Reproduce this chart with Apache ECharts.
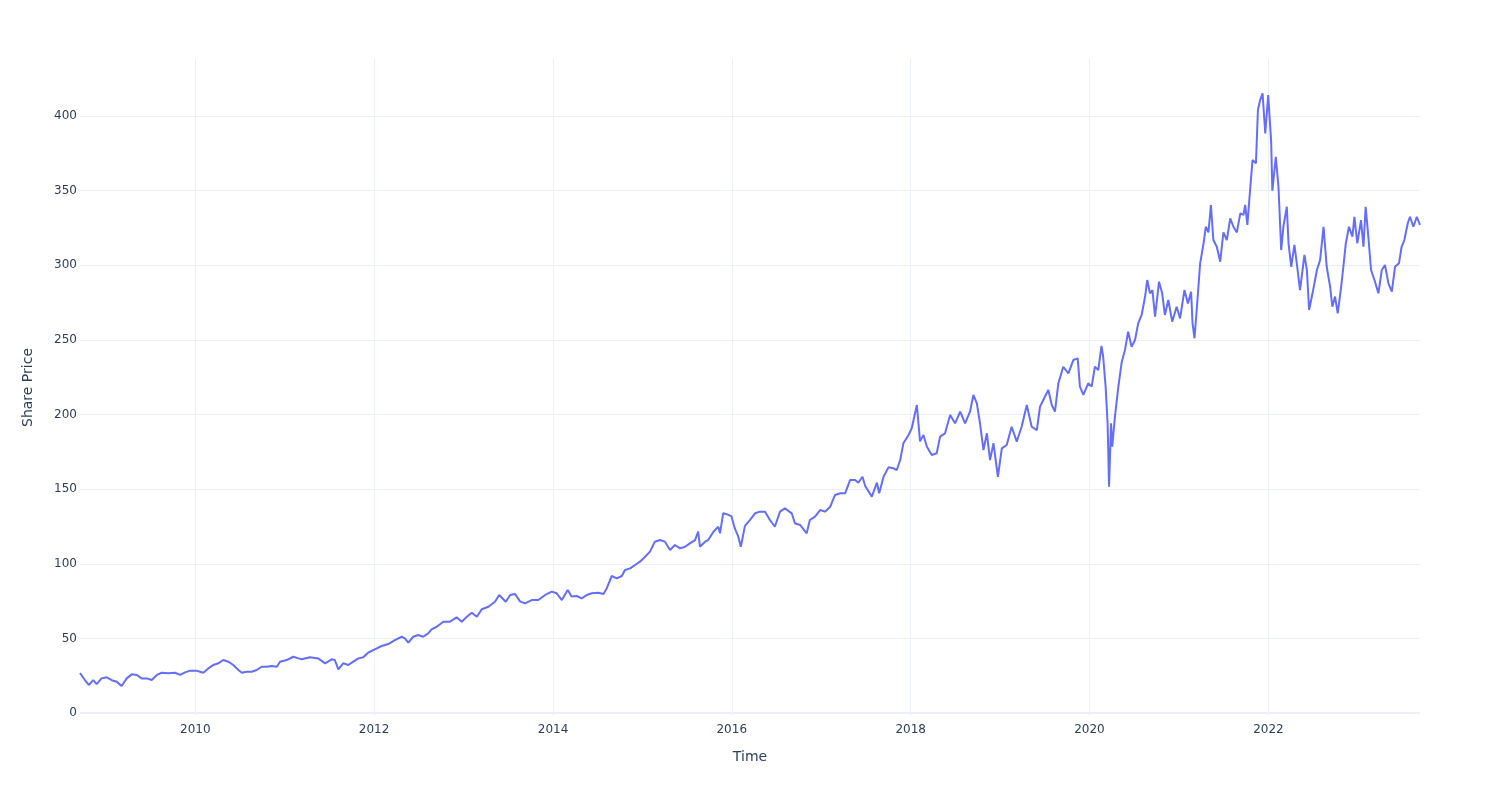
<!DOCTYPE html>
<html>
<head>
<meta charset="utf-8">
<script src="https://cdn.jsdelivr.net/npm/echarts@6/dist/echarts.min.js"></script>
<style>
html,body{margin:0;padding:0;background:#fff;}
#chart{width:1500px;height:800px;}
</style>
</head>
<body>
<div id="chart"></div>
<script>
const dates = [
'2008-09-17','2008-10-07','2008-10-23','2008-11-10','2008-11-24','2008-12-14',
'2009-01-04','2009-01-25','2009-02-14','2009-03-06','2009-03-27','2009-04-16','2009-05-07','2009-05-27','2009-06-17','2009-07-07','2009-07-28','2009-08-17','2009-09-13','2009-10-10','2009-10-31','2009-11-20','2009-12-11',
'2010-01-04','2010-01-20','2010-02-03','2010-02-23','2010-03-16','2010-04-05','2010-04-25','2010-05-16','2010-06-05','2010-06-26','2010-07-10','2010-07-30','2010-08-19','2010-09-09','2010-09-29','2010-10-20','2010-11-09','2010-11-30','2010-12-13',
'2011-01-09','2011-02-05','2011-02-26','2011-03-11','2011-04-14','2011-05-18','2011-06-15','2011-07-12','2011-07-25','2011-08-08','2011-08-28','2011-09-18','2011-10-08','2011-10-29','2011-11-18','2011-12-08',
'2012-01-04','2012-02-01','2012-02-28','2012-03-26','2012-04-23','2012-05-06','2012-05-20','2012-06-09','2012-06-29','2012-07-20','2012-08-09','2012-08-23','2012-09-13','2012-10-10','2012-11-06','2012-12-03','2012-12-24',
'2013-01-14','2013-02-03','2013-02-24','2013-03-16','2013-04-12','2013-05-09','2013-05-26','2013-06-12','2013-06-22','2013-07-10','2013-07-30','2013-08-20','2013-09-09','2013-10-06','2013-11-02','2013-11-30','2013-12-27',
'2014-01-16','2014-02-06','2014-03-02','2014-03-18','2014-04-08','2014-04-28','2014-05-19','2014-06-08','2014-07-05','2014-07-26','2014-08-08','2014-08-29','2014-09-18','2014-10-09','2014-10-22','2014-11-12','2014-12-02','2014-12-22',
'2015-01-12','2015-02-01','2015-02-21','2015-03-14','2015-04-03','2015-04-24','2015-05-14','2015-06-04','2015-06-24','2015-07-14','2015-08-04','2015-08-17','2015-08-24','2015-09-14','2015-09-27','2015-10-18','2015-11-07','2015-11-14','2015-11-27','2015-12-18','2015-12-31',
'2016-01-14','2016-01-27','2016-02-07','2016-02-24','2016-03-15','2016-04-05','2016-04-25','2016-05-16','2016-06-05','2016-06-25','2016-07-16','2016-08-05','2016-09-02','2016-09-15','2016-10-06','2016-11-02','2016-11-15','2016-12-06','2016-12-27',
'2017-01-16','2017-02-06','2017-02-26','2017-03-19','2017-04-08','2017-04-28','2017-05-19','2017-06-01','2017-06-18','2017-06-29','2017-07-26','2017-08-16','2017-08-25','2017-09-12','2017-10-02','2017-10-22','2017-11-05','2017-11-19','2017-12-02','2017-12-23',
'2018-01-05','2018-01-26','2018-02-08','2018-02-22','2018-03-08','2018-03-28','2018-04-17','2018-05-01','2018-05-21','2018-06-11','2018-07-01','2018-07-22','2018-08-11','2018-08-31','2018-09-14','2018-09-28','2018-10-11','2018-10-25','2018-11-08','2018-11-21','2018-12-05','2018-12-23',
'2019-01-08','2019-01-28','2019-02-17','2019-03-10','2019-03-30','2019-04-20','2019-05-10','2019-05-31','2019-06-13','2019-07-03','2019-07-17','2019-07-31','2019-08-13','2019-08-27','2019-09-16','2019-10-07','2019-10-27','2019-11-14','2019-11-23','2019-12-07','2019-12-27',
'2020-01-10','2020-01-23','2020-02-06','2020-02-19','2020-02-26','2020-03-07','2020-03-15','2020-03-21','2020-03-29','2020-04-03','2020-04-14','2020-04-28','2020-05-12','2020-05-25','2020-06-07','2020-06-21','2020-07-05','2020-07-18','2020-08-01','2020-08-15','2020-08-24','2020-09-04','2020-09-14','2020-09-25','2020-10-11','2020-10-24','2020-11-04','2020-11-18','2020-12-04','2020-12-22',
'2021-01-05','2021-01-23','2021-02-06','2021-02-19','2021-02-25','2021-03-05','2021-03-15','2021-03-28','2021-04-11','2021-04-20','2021-05-01','2021-05-11','2021-05-21','2021-06-04','2021-06-18','2021-07-01','2021-07-15','2021-07-29','2021-08-11','2021-08-25','2021-09-08','2021-09-21','2021-09-28','2021-10-07','2021-10-18','2021-10-28','2021-11-11','2021-11-19','2021-11-28','2021-12-08','2021-12-19','2021-12-31',
'2022-01-12','2022-01-17','2022-01-31','2022-02-11','2022-02-22','2022-03-03','2022-03-17','2022-03-24','2022-04-04','2022-04-17','2022-04-27','2022-05-10','2022-05-28','2022-06-07','2022-06-16','2022-06-30','2022-07-18','2022-07-31','2022-08-14','2022-08-27','2022-09-10','2022-09-19','2022-09-30','2022-10-11','2022-10-25','2022-11-03','2022-11-13','2022-11-26','2022-12-10','2022-12-18','2022-12-30',
'2023-01-14','2023-01-24','2023-02-02','2023-02-13','2023-02-24','2023-03-10','2023-03-26','2023-04-09','2023-04-22','2023-05-06','2023-05-20','2023-06-02','2023-06-18','2023-06-29','2023-07-10','2023-07-24','2023-08-02','2023-08-16','2023-08-30','2023-09-12'
];

const sharePrice = [
26.8,22.1,18.8,22.0,19.4,23.2,
23.9,22.0,21.0,18.1,23.2,25.9,25.5,23.2,23.2,22.1,25.5,27.0,26.6,27.0,25.5,27.2,28.4,
28.4,27.7,27.0,29.9,32.2,33.3,35.5,34.4,32.2,28.8,27.0,27.7,27.7,28.8,31.0,31.0,31.5,31.0,34.4,
35.5,37.7,36.6,36.0,37.3,36.6,33.3,36.0,35.5,29.2,33.3,32.2,34.4,36.6,37.3,40.4,
42.7,44.9,46.2,48.9,51.1,50.0,47.1,51.1,52.3,51.1,53.4,56.1,57.8,61.2,61.2,64.1,61.2,
64.5,67.2,64.5,69.5,71.2,74.6,79.1,76.2,74.6,79.1,79.7,74.6,73.5,75.7,75.7,79.1,81.3,
80.2,75.7,82.4,78.0,78.4,76.8,79.1,80.2,80.6,79.7,83.5,91.8,90.2,91.8,95.8,96.9,99.2,101.4,
104.7,108.1,114.8,115.9,114.8,109.2,112.6,110.3,111.4,113.7,115.9,121.5,111.4,114.8,115.9,121.5,124.8,120.4,133.9,132.8,131.7,
123.5,118.5,111.4,125.4,129.3,133.8,134.9,134.9,129.3,124.8,134.9,137.1,133.8,127.1,126.0,120.4,129.3,131.6,136.0,
134.9,138.2,146.1,147.2,147.2,156.1,156.1,154.3,158.3,152.1,145.0,154.3,147.2,158.3,164.6,164.0,162.8,169.5,180.7,186.3,
190.8,206.4,182.0,186.3,178.4,172.9,174.0,185.2,187.4,199.7,194.1,201.9,194.1,201.9,213.1,207.5,194.1,176.2,187.4,169.5,180.7,158.3,
177.3,179.6,191.8,181.8,191.8,206.4,191.8,189.6,205.2,211.9,216.4,206.4,201.9,220.9,232.0,227.6,236.5,237.6,218.7,213.1,220.9,
218.7,232.0,229.8,246.0,238.7,218.7,194.1,151.6,194.1,178.4,198.5,218.7,235.4,243.2,255.5,245.4,249.9,261.1,266.7,278.9,290.1,281.2,283.4,265.5,289.0,281.2,266.7,276.7,262.2,272.2,
264.4,283.4,274.4,282.3,261.1,251.1,272.2,301.3,314.7,325.8,322.0,340.4,316.9,312.4,302.4,322.0,316.9,331.4,325.8,322.0,334.8,333.7,340.4,327.0,350.4,370.5,368.3,404.0,410.7,415.2,388.4,414.1,
383.0,350.0,372.7,352.6,310.2,325.8,339.2,314.7,299.0,313.6,301.1,283.4,306.9,296.8,270.0,281.2,296.8,303.5,325.8,299.0,285.6,272.2,279.0,267.8,285.6,299.0,314.7,325.8,319.1,332.5,314.7,
330.3,312.4,339.2,319.1,296.8,290.1,281.2,296.8,300.2,287.9,282.3,299.0,301.3,312.4,316.9,328.1,332.5,325.8,332.5,327.0
];

const xTickYears = [2010, 2012, 2014, 2016, 2018, 2020, 2022];
const yTickValues = [0, 50, 100, 150, 200, 250, 300, 350, 400];

function toTime(s) {
  const p = s.split('-').map(Number);
  return Date.UTC(p[0], p[1] - 1, p[2]);
}
const xTicks = xTickYears.map(y => Date.UTC(y, 0, 1));
const seriesData = dates.map((d, i) => [toTime(d), sharePrice[i]]);

const FONT = 'DejaVu Sans';
const TEXT = '#2a3f5f';
const GRID = '#ebf0f8';

const chart = echarts.init(document.getElementById('chart'), null, {renderer: 'canvas'});
chart.setOption({
  animation: false,
  backgroundColor: '#ffffff',
  grid: {left: 80, right: 80, top: 59, bottom: 84, containLabel: false},
  xAxis: {
    type: 'value',
    min: 'dataMin',
    max: 'dataMax',
    name: 'Time',
    nameLocation: 'middle',
    nameGap: 34,
    nameTextStyle: {color: TEXT, fontSize: 14, fontFamily: FONT},
    axisLine: {show: false},
    axisTick: {show: false, customValues: xTicks},
    axisLabel: {
      customValues: xTicks,
      color: TEXT, fontSize: 12, fontFamily: FONT, margin: 8,
      formatter: v => String(new Date(v).getUTCFullYear())
    },
    splitLine: {show: true, lineStyle: {color: GRID, width: 1}}
  },
  yAxis: {
    type: 'value',
    min: -2,
    max: 438.2,
    name: 'Share Price',
    nameLocation: 'middle',
    nameGap: 45,
    nameTextStyle: {color: TEXT, fontSize: 14, fontFamily: FONT},
    axisLine: {show: false},
    axisTick: {show: false, customValues: yTickValues},
    axisLabel: {
      customValues: yTickValues,
      color: TEXT, fontSize: 12, fontFamily: FONT, margin: 3,
      padding: [4, 0, 0, 0]
    },
    splitLine: {show: true, lineStyle: {color: GRID, width: 1}}
  },
  series: [{
    type: 'line',
    data: seriesData,
    showSymbol: false,
    symbol: 'none',
    lineStyle: {color: '#636efa', width: 2},
    itemStyle: {color: '#636efa'},
    markLine: {
      silent: true,
      symbol: 'none',
      label: {show: false},
      lineStyle: {color: GRID, width: 2, type: 'solid'},
      data: [{yAxis: 0}],
      z: 1
    }
  }]
});
</script>
</body>
</html>
